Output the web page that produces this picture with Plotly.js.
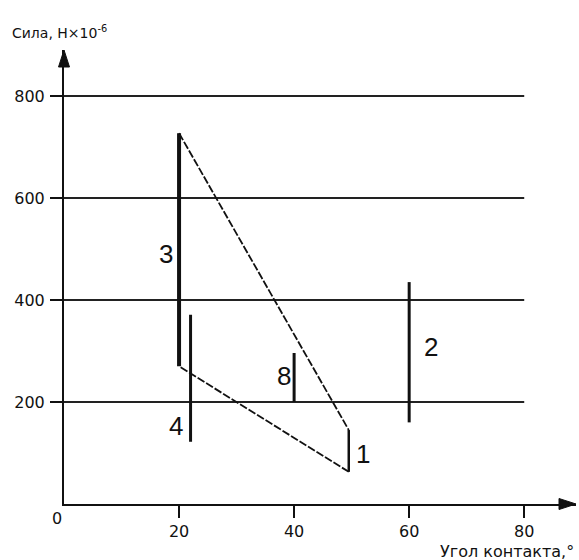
<!DOCTYPE html>
<html>
<head>
<meta charset="utf-8">
<script src="https://cdn.plot.ly/plotly-3.0.1.min.js"></script>
<style>html,body{margin:0;padding:0;background:#fff;}#chart{width:579px;height:560px;}</style>
</head>
<body>
<div id="chart"></div>
<script>
// Data
const line3X = [20, 20];      const line3Y = [270, 727];
const dashTopX = [20, 49.5];  const dashTopY = [727, 145];
const line1X = [49.5, 49.5];  const line1Y = [145, 63];
const dashBotX = [49.5, 20];  const dashBotY = [63, 270];
const line4X = [22, 22];      const line4Y = [122, 371];
const line8X = [40, 40];      const line8Y = [200, 296];
const line2X = [60, 60];      const line2Y = [160, 435];
const gridValues = [200, 400, 600, 800];
const xTicks = [20, 40, 60, 80];
const yTicks = [200, 400, 600, 800];
const labelTexts = ['3', '4', '8', '1', '2'];

const xMax = 89, yMax = 890;
const font = 'DejaVu Sans, Verdana, sans-serif';
const labelFont = 'Liberation Sans, Arial, sans-serif';
const ink = '#111';

function seg(x, y, w, dash) {
  return {x: x, y: y, mode: 'lines', type: 'scatter', hoverinfo: 'skip',
          line: {color: ink, width: w, dash: dash || 'solid'}, showlegend: false};
}

const traces = [
  seg(line3X, line3Y, 4),
  seg(dashTopX, dashTopY, 1.8, '8px,2px'),
  seg(line1X, line1Y, 2.5),
  seg(dashBotX, dashBotY, 1.8, '8px,2px'),
  seg(line4X, line4Y, 3),
  seg(line8X, line8Y, 3),
  seg(line2X, line2Y, 3)
];

const shapes = gridValues.map(v => ({
  type: 'line', xref: 'x', yref: 'y', x0: 0, x1: 80, y0: v, y1: v,
  line: {color: '#222', width: 2}, layer: 'below'
}));
// axis arrowheads (paper-referenced so they are not clipped)
shapes.push({type: 'path', xref: 'paper', yref: 'paper', xsizemode: 'pixel', ysizemode: 'pixel',
  xanchor: 0, yanchor: 1, path: 'M-5.5,-17 L5.5,-17 L0,0 Z',
  fillcolor: ink, line: {color: ink, width: 1}});
shapes.push({type: 'path', xref: 'paper', yref: 'paper', xsizemode: 'pixel', ysizemode: 'pixel',
  xanchor: 1, yanchor: 0, path: 'M-17,-5.5 L-17,5.5 L0,0 Z',
  fillcolor: ink, line: {color: ink, width: 1}});

const labelPos = [[17.65, 493], [19.4, 155], [38.2, 253], [51.9, 100], [63.8, 310]];
const annotations = labelTexts.map((t, i) => ({
  x: labelPos[i][0], y: labelPos[i][1], xref: 'x', yref: 'y', text: t,
  showarrow: false, yshift: -1, font: {family: labelFont, size: 26, color: ink}
}));
annotations.push({x: 0, y: 0, xref: 'x', yref: 'y', text: '0', showarrow: false,
  xshift: -7, yshift: -14, font: {family: font, size: 16, color: ink}});
annotations.push({xref: 'paper', yref: 'paper', x: -0.106, y: 1.015, xanchor: 'left', yanchor: 'bottom',
  text: 'Сила, Н×10<sup>-6</sup>', showarrow: false, font: {family: font, size: 14, color: ink}});
annotations.push({xref: 'paper', yref: 'paper', x: 1.0, y: -0.079, xanchor: 'right', yanchor: 'top',
  text: 'Угол контакта,°', showarrow: false, font: {family: font, size: 16, color: ink}});

const layout = {
  width: 579, height: 560,
  margin: {l: 64, r: 3, t: 50, b: 56},
  paper_bgcolor: '#fff', plot_bgcolor: '#fff',
  showlegend: false,
  font: {family: font, size: 16, color: ink},
  xaxis: {range: [0, xMax], tickvals: xTicks, ticktext: xTicks.map(String),
          showgrid: false, zeroline: false, showline: true, linewidth: 2, linecolor: ink,
          ticks: 'outside', ticklen: 12, tickwidth: 2, tickcolor: ink,
          tickfont: {family: font, size: 16, color: ink}, fixedrange: true},
  yaxis: {range: [0, yMax], tickvals: yTicks, ticktext: yTicks.map(String),
          showgrid: false, zeroline: false, showline: true, linewidth: 2, linecolor: ink,
          ticks: 'outside', ticklen: 12, tickwidth: 2, tickcolor: ink,
          ticklabelstandoff: 2,
          tickfont: {family: font, size: 16, color: ink}, fixedrange: true},
  shapes: shapes,
  annotations: annotations
};

Plotly.newPlot('chart', traces, layout, {displayModeBar: false, staticPlot: true});
</script>
</body>
</html>
